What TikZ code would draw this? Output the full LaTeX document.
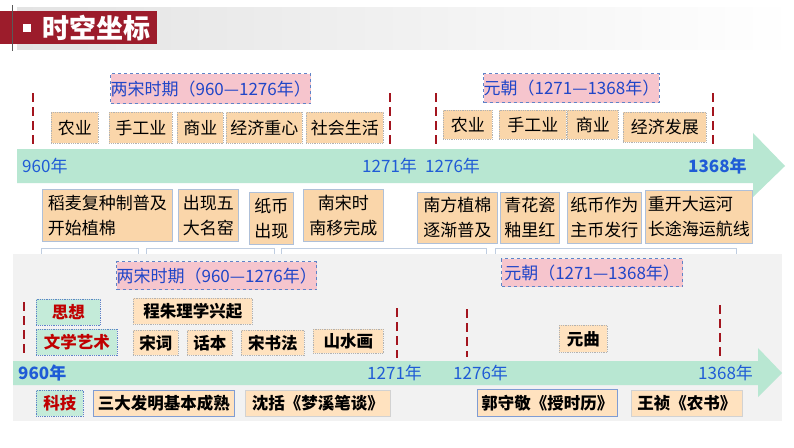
\documentclass[tikz,border=0pt]{standalone}
\usepackage{fontspec}
\setmainfont{Noto Sans CJK SC}
\definecolor{hdred}{HTML}{9C1C2B}
\definecolor{pinkf}{HTML}{F6C5CD}
\definecolor{dashblue}{HTML}{5F83C8}
\definecolor{txtblue}{HTML}{2046C8}
\definecolor{lblblue}{HTML}{1F5CD6}
\definecolor{peachA}{HTML}{FAD6AA}
\definecolor{peachB}{HTML}{FFE2BF}
\definecolor{mint}{HTML}{B8E7D2}
\definecolor{mintbox}{HTML}{C4EBD9}
\definecolor{dred}{HTML}{A3151F}
\definecolor{catred}{HTML}{C00000}
\definecolor{bgrey}{HTML}{AFC0D8}
\definecolor{panel}{HTML}{F2F2F2}
\newcommand\mybox[7]{\node[#2,anchor=north west,inner sep=0pt,minimum width={#5pt-#3pt},minimum height={#6pt-#4pt}] (#1) at (#3,#4) {#7};}
\tikzset{
  fs/.style={font=\fontsize{17}{25}\selectfont},
  period/.style={fill=pinkf,draw=dashblue,dashed,line width=1.2pt,text=txtblue,font=\fontsize{17}{20}\selectfont},
  tbox/.style={fill=peachA,draw=gray!60,densely dotted,line width=0.8pt,fs},
  lbox/.style={fill=peachA,draw=bgrey,line width=0.9pt,fs},
  hidbox/.style={fill=white,draw=bgrey!80,line width=0.9pt},
  cbox/.style={fill=mintbox,draw=dashblue,densely dotted,line width=0.8pt,text=catred,font=\fontsize{16.5}{20}\selectfont\bfseries},
  pbox/.style={fill=peachB,draw=gray!60,densely dotted,line width=0.8pt,font=\fontsize{16.5}{20}\selectfont\bfseries},
  bbox/.style={fill=peachB,draw=dashblue!80,line width=0.9pt,font=\fontsize{16.5}{20}\selectfont\bfseries},
  gbox/.style={fill=peachB,draw=gray!35,line width=0.9pt,font=\fontsize{16.5}{20}\selectfont\bfseries},
  reddash/.style={draw=dred,line width=2.8pt,dash pattern=on 9pt off 5pt},
  yr/.style={text=lblblue,anchor=west,inner sep=0pt,font=\fontsize{17}{20}\selectfont},
  arrowbody/.style={fill=mint,draw=none}
}
\begin{document}
\begin{tikzpicture}[x=1pt,y=-1pt]
\useasboundingbox (0,0) rectangle (794,447);
\fill[white] (0,0) rectangle (794,447);
% header
\shade[left color=gray!22,right color=white] (17,7) rectangle (794,49);
\fill[hdred] (0,11) rectangle (157,44);
\fill[white] (23,24) rectangle (31,32);
\draw[gray!70!black,line width=0.8pt] (12.5,5) -- (12.5,51);
\node[text=white,font=\fontsize{27}{30}\selectfont\bfseries,anchor=west,inner sep=0pt] (title) at (42,28) {时空坐标};
% ===== top section =====
\mybox{p1}{period}{110}{73}{306}{103}{两宋时期（960—1276年）}
\mybox{p2}{period}{483}{73}{658}{102}{元朝（1271—1368年）}
\draw[reddash] (33,93) -- (33,148);
\draw[reddash] (390,93) -- (390,148);
\draw[reddash] (436,93) -- (436,148);
\draw[reddash] (713,93) -- (713,146);
\mybox{t1}{tbox}{51}{112}{98}{143}{农业}
\mybox{t2}{tbox}{109}{112}{172}{143}{手工业}
\mybox{t3}{tbox}{177}{112}{223}{143}{商业}
\mybox{t4}{tbox}{226}{112}{302}{143}{经济重心}
\mybox{t5}{tbox}{306}{112}{383}{143}{社会生活}
\mybox{t6}{tbox}{443}{110}{492}{139}{农业}
\mybox{t7}{tbox}{499}{110}{566}{139}{手工业}
\mybox{t8}{tbox}{567}{110}{618}{139}{商业}
\mybox{t9}{tbox}{623}{112}{706}{142}{经济发展}
% main arrow top
\fill[arrowbody] (17,149) -- (753,149) -- (753,133) -- (785,166) -- (753,197) -- (753,183) -- (17,183) -- cycle;
\node[yr] (y1) at (22,166) {960年};
\node[yr] (y2) at (362,166) {1271年};
\node[yr] (y3) at (425,166) {1276年};
\node[yr,font=\fontsize{17}{20}\selectfont\bfseries] (y4) at (688,166) {1368年};
% lower boxes top
\mybox{h1}{hidbox}{41}{248}{138}{262}{}
\mybox{h2}{hidbox}{146}{248}{274}{262}{}
\mybox{h3}{hidbox}{281}{248}{486}{262}{}
\mybox{h4}{hidbox}{495}{248}{736}{262}{}
\mybox{l1}{lbox,align=left}{42}{189}{172}{241}{稻麦复种制普及\\开始植棉}
\mybox{l2}{lbox,align=center}{178}{189}{238}{241}{出现五\\大名窑}
\mybox{l3}{lbox,align=center}{249}{192}{293}{244}{纸币\\出现}
\mybox{l4}{lbox,align=center}{303}{189}{383}{241}{南宋时\\南移完成}
\mybox{l5}{lbox,align=center}{417}{192}{497}{243}{南方植棉\\逐渐普及}
\mybox{l6}{lbox,align=center}{500}{192}{559}{243}{青花瓷\\釉里红}
\mybox{l7}{lbox,align=center}{567}{192}{641}{243}{纸币作为\\主币发行}
\mybox{l8}{lbox,align=left}{645}{190}{752}{243}{重开大运河\\长途海运航线}
% ===== bottom panel =====
\fill[panel] (13,254) rectangle (782,421);
\mybox{p3}{period}{116}{261}{313}{289}{两宋时期（960—1276年）}
\mybox{p4}{period}{501}{258}{682}{286}{元朝（1271—1368年）}
\draw[reddash] (24,302) -- (24,355);
\draw[reddash] (397,308) -- (397,358);
\draw[reddash] (467,309) -- (467,357);
\draw[reddash] (720,305) -- (720,356);
\mybox{c1}{cbox}{36}{299}{100}{325}{思想\hspace{22pt}}
\mybox{c2}{cbox}{36}{329}{117}{355}{文学艺术\hspace{6pt}}
\mybox{b1}{pbox}{133}{298}{252}{324}{程朱理学兴起}
\mybox{b2}{pbox}{133}{330}{178}{355}{宋词}
\mybox{b3}{pbox}{187}{330}{232}{355}{话本}
\mybox{b4}{pbox}{241}{330}{304}{355}{宋书法}
\mybox{b5}{pbox}{313}{329}{383}{353}{山水画}
\mybox{b6}{pbox}{559}{325}{607}{352}{元曲}
% bottom arrow
\fill[arrowbody] (13,361) -- (758,361) -- (758,348) -- (782,373) -- (758,397) -- (758,385) -- (13,385) -- cycle;
\node[yr,font=\fontsize{17}{20}\selectfont\bfseries] (z1) at (18,373) {960年};
\node[yr] (z2) at (367,373) {1271年};
\node[yr] (z3) at (453,373) {1276年};
\node[yr] (z4) at (698,373) {1368年};
\mybox{c3}{cbox}{36}{390}{83}{416}{科技}
\mybox{d1}{bbox}{93}{390}{234}{416}{三大发明基本成熟}
\mybox{d2}{gbox}{245}{390}{390}{416}{沈括《梦溪笔谈》}
\mybox{d3}{bbox}{477}{389}{617}{416}{郭守敬《授时历》}
\mybox{d4}{gbox}{631}{390}{742}{416}{王祯《农书》}
\end{tikzpicture}
\end{document}
